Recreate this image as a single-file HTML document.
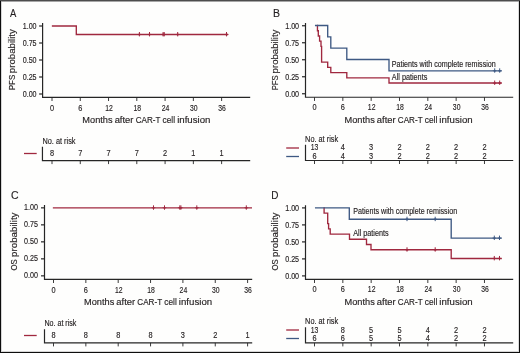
<!DOCTYPE html>
<html><head><meta charset="utf-8"><style>
html,body{margin:0;padding:0;background:#fefefd;}
body{width:520px;height:353px;overflow:hidden;}
svg{display:block;font-family:"Liberation Sans", sans-serif;will-change:transform;}
text{stroke:#231f20;stroke-width:0.15px;}
</style></head><body>
<svg width="520" height="353" viewBox="0 0 520 353">
<rect x="0" y="0" width="520" height="353" fill="#fefefd"/>
<text x="10.00" y="17.00" font-size="11.4" text-anchor="start" textLength="6.3" lengthAdjust="spacingAndGlyphs" fill="#231f20">A</text>
<text x="0" y="0" font-size="9.3" textLength="15.50" lengthAdjust="spacingAndGlyphs" fill="#231f20" transform="translate(14.90,90.30) rotate(-90)">PFS</text>
<text x="0" y="0" font-size="9.3" textLength="44.10" lengthAdjust="spacingAndGlyphs" fill="#231f20" transform="translate(14.90,73.20) rotate(-90)">probability</text>
<path d="M42.60,23.00 V97.30 H250.20" fill="none" stroke="#262626" stroke-width="1.2" stroke-linejoin="miter"/>
<line x1="39.10" y1="26.00" x2="42.60" y2="26.00" stroke="#262626" stroke-width="1.2"/>
<text x="36.60" y="28.80" font-size="8.3" text-anchor="end" textLength="13.9" lengthAdjust="spacingAndGlyphs" fill="#231f20">1.00</text>
<line x1="39.10" y1="43.00" x2="42.60" y2="43.00" stroke="#262626" stroke-width="1.2"/>
<text x="36.60" y="45.80" font-size="8.3" text-anchor="end" textLength="13.9" lengthAdjust="spacingAndGlyphs" fill="#231f20">0.75</text>
<line x1="39.10" y1="60.00" x2="42.60" y2="60.00" stroke="#262626" stroke-width="1.2"/>
<text x="36.60" y="62.80" font-size="8.3" text-anchor="end" textLength="13.9" lengthAdjust="spacingAndGlyphs" fill="#231f20">0.50</text>
<line x1="39.10" y1="77.00" x2="42.60" y2="77.00" stroke="#262626" stroke-width="1.2"/>
<text x="36.60" y="79.80" font-size="8.3" text-anchor="end" textLength="13.9" lengthAdjust="spacingAndGlyphs" fill="#231f20">0.25</text>
<line x1="39.10" y1="94.00" x2="42.60" y2="94.00" stroke="#262626" stroke-width="1.2"/>
<text x="36.60" y="96.80" font-size="8.3" text-anchor="end" textLength="13.9" lengthAdjust="spacingAndGlyphs" fill="#231f20">0.00</text>
<line x1="52.00" y1="97.30" x2="52.00" y2="101.00" stroke="#262626" stroke-width="0.9"/>
<text x="52.00" y="110.50" font-size="8.6" text-anchor="middle" textLength="4.1" lengthAdjust="spacingAndGlyphs" fill="#231f20">0</text>
<line x1="80.27" y1="97.30" x2="80.27" y2="101.00" stroke="#262626" stroke-width="0.9"/>
<text x="80.27" y="110.50" font-size="8.6" text-anchor="middle" textLength="4.1" lengthAdjust="spacingAndGlyphs" fill="#231f20">6</text>
<line x1="108.54" y1="97.30" x2="108.54" y2="101.00" stroke="#262626" stroke-width="0.9"/>
<text x="109.04" y="110.50" font-size="8.6" text-anchor="middle" textLength="7.6" lengthAdjust="spacingAndGlyphs" fill="#231f20">12</text>
<line x1="136.81" y1="97.30" x2="136.81" y2="101.00" stroke="#262626" stroke-width="0.9"/>
<text x="137.31" y="110.50" font-size="8.6" text-anchor="middle" textLength="7.6" lengthAdjust="spacingAndGlyphs" fill="#231f20">18</text>
<line x1="165.08" y1="97.30" x2="165.08" y2="101.00" stroke="#262626" stroke-width="0.9"/>
<text x="165.58" y="110.50" font-size="8.6" text-anchor="middle" textLength="7.6" lengthAdjust="spacingAndGlyphs" fill="#231f20">24</text>
<line x1="193.35" y1="97.30" x2="193.35" y2="101.00" stroke="#262626" stroke-width="0.9"/>
<text x="193.85" y="110.50" font-size="8.6" text-anchor="middle" textLength="7.6" lengthAdjust="spacingAndGlyphs" fill="#231f20">30</text>
<line x1="221.62" y1="97.30" x2="221.62" y2="101.00" stroke="#262626" stroke-width="0.9"/>
<text x="222.12" y="110.50" font-size="8.6" text-anchor="middle" textLength="7.6" lengthAdjust="spacingAndGlyphs" fill="#231f20">36</text>
<text x="82.35" y="123.00" font-size="9" text-anchor="start" textLength="30.2" lengthAdjust="spacingAndGlyphs" fill="#231f20">Months</text>
<text x="114.65" y="123.00" font-size="9" text-anchor="start" textLength="18.799999999999997" lengthAdjust="spacingAndGlyphs" fill="#231f20">after</text>
<text x="135.65" y="123.00" font-size="9" text-anchor="start" textLength="24.799999999999997" lengthAdjust="spacingAndGlyphs" fill="#231f20">CAR-T</text>
<text x="162.55" y="123.00" font-size="9" text-anchor="start" textLength="12.5" lengthAdjust="spacingAndGlyphs" fill="#231f20">cell</text>
<text x="177.15" y="123.00" font-size="9" text-anchor="start" textLength="33.3" lengthAdjust="spacingAndGlyphs" fill="#231f20">infusion</text>
<text x="42.50" y="144.10" font-size="8.2" text-anchor="start" textLength="33" lengthAdjust="spacingAndGlyphs" fill="#231f20">No. at risk</text>
<path d="M42.45,146.80 V160.60 H250.20" fill="none" stroke="#262626" stroke-width="1.2" stroke-linejoin="miter"/>
<line x1="52.00" y1="160.60" x2="52.00" y2="164.10" stroke="#262626" stroke-width="0.9"/>
<line x1="80.27" y1="160.60" x2="80.27" y2="164.10" stroke="#262626" stroke-width="0.9"/>
<line x1="108.54" y1="160.60" x2="108.54" y2="164.10" stroke="#262626" stroke-width="0.9"/>
<line x1="136.81" y1="160.60" x2="136.81" y2="164.10" stroke="#262626" stroke-width="0.9"/>
<line x1="165.08" y1="160.60" x2="165.08" y2="164.10" stroke="#262626" stroke-width="0.9"/>
<line x1="193.35" y1="160.60" x2="193.35" y2="164.10" stroke="#262626" stroke-width="0.9"/>
<line x1="221.62" y1="160.60" x2="221.62" y2="164.10" stroke="#262626" stroke-width="0.9"/>
<line x1="24.00" y1="153.50" x2="36.70" y2="153.50" stroke="#a0283f" stroke-width="1.3"/>
<text x="52.00" y="155.80" font-size="8.3" text-anchor="middle" textLength="4.1" lengthAdjust="spacingAndGlyphs" fill="#231f20">8</text>
<text x="80.27" y="155.80" font-size="8.3" text-anchor="middle" textLength="4.1" lengthAdjust="spacingAndGlyphs" fill="#231f20">7</text>
<text x="108.54" y="155.80" font-size="8.3" text-anchor="middle" textLength="4.1" lengthAdjust="spacingAndGlyphs" fill="#231f20">7</text>
<text x="136.81" y="155.80" font-size="8.3" text-anchor="middle" textLength="4.1" lengthAdjust="spacingAndGlyphs" fill="#231f20">7</text>
<text x="165.08" y="155.80" font-size="8.3" text-anchor="middle" textLength="4.1" lengthAdjust="spacingAndGlyphs" fill="#231f20">2</text>
<text x="193.35" y="155.80" font-size="8.3" text-anchor="middle" textLength="4.1" lengthAdjust="spacingAndGlyphs" fill="#231f20">1</text>
<text x="221.62" y="155.80" font-size="8.3" text-anchor="middle" textLength="4.1" lengthAdjust="spacingAndGlyphs" fill="#231f20">1</text>
<path d="M51.85,26.00 L76.30,26.00 L76.30,34.50 L228.20,34.50" fill="none" stroke="#a0283f" stroke-width="1.35" stroke-linejoin="miter"/>
<path d="M139.40,32.00 V36.40" stroke="#a0283f" stroke-width="1.0" fill="none"/>
<path d="M137.00,34.50 L139.40,33.60 L141.80,34.50 L139.40,35.40 Z" fill="#a0283f" stroke="none"/>
<path d="M149.50,32.00 V36.40" stroke="#a0283f" stroke-width="1.0" fill="none"/>
<path d="M147.10,34.50 L149.50,33.60 L151.90,34.50 L149.50,35.40 Z" fill="#a0283f" stroke="none"/>
<path d="M163.10,32.00 V36.40" stroke="#a0283f" stroke-width="1.0" fill="none"/>
<path d="M160.70,34.50 L163.10,33.60 L165.50,34.50 L163.10,35.40 Z" fill="#a0283f" stroke="none"/>
<path d="M164.20,32.00 V36.40" stroke="#a0283f" stroke-width="1.0" fill="none"/>
<path d="M161.80,34.50 L164.20,33.60 L166.60,34.50 L164.20,35.40 Z" fill="#a0283f" stroke="none"/>
<path d="M177.70,32.00 V36.40" stroke="#a0283f" stroke-width="1.0" fill="none"/>
<path d="M175.30,34.50 L177.70,33.60 L180.10,34.50 L177.70,35.40 Z" fill="#a0283f" stroke="none"/>
<path d="M226.50,32.00 V36.40" stroke="#a0283f" stroke-width="1.0" fill="none"/>
<path d="M224.10,34.50 L226.50,33.60 L228.90,34.50 L226.50,35.40 Z" fill="#a0283f" stroke="none"/>
<text x="272.90" y="17.00" font-size="11.4" text-anchor="start" textLength="7.0" lengthAdjust="spacingAndGlyphs" fill="#231f20">B</text>
<text x="0" y="0" font-size="9.3" textLength="15.10" lengthAdjust="spacingAndGlyphs" fill="#231f20" transform="translate(277.70,90.30) rotate(-90)">PFS</text>
<text x="0" y="0" font-size="9.3" textLength="43.80" lengthAdjust="spacingAndGlyphs" fill="#231f20" transform="translate(277.70,73.40) rotate(-90)">probability</text>
<path d="M305.50,23.10 V97.25 H513.20" fill="none" stroke="#262626" stroke-width="1.2" stroke-linejoin="miter"/>
<line x1="302.00" y1="25.75" x2="305.50" y2="25.75" stroke="#262626" stroke-width="1.2"/>
<text x="299.10" y="28.55" font-size="8.3" text-anchor="end" textLength="13.9" lengthAdjust="spacingAndGlyphs" fill="#231f20">1.00</text>
<line x1="302.00" y1="42.75" x2="305.50" y2="42.75" stroke="#262626" stroke-width="1.2"/>
<text x="299.10" y="45.55" font-size="8.3" text-anchor="end" textLength="13.9" lengthAdjust="spacingAndGlyphs" fill="#231f20">0.75</text>
<line x1="302.00" y1="59.75" x2="305.50" y2="59.75" stroke="#262626" stroke-width="1.2"/>
<text x="299.10" y="62.55" font-size="8.3" text-anchor="end" textLength="13.9" lengthAdjust="spacingAndGlyphs" fill="#231f20">0.50</text>
<line x1="302.00" y1="76.75" x2="305.50" y2="76.75" stroke="#262626" stroke-width="1.2"/>
<text x="299.10" y="79.55" font-size="8.3" text-anchor="end" textLength="13.9" lengthAdjust="spacingAndGlyphs" fill="#231f20">0.25</text>
<line x1="302.00" y1="93.75" x2="305.50" y2="93.75" stroke="#262626" stroke-width="1.2"/>
<text x="299.10" y="96.55" font-size="8.3" text-anchor="end" textLength="13.9" lengthAdjust="spacingAndGlyphs" fill="#231f20">0.00</text>
<line x1="314.50" y1="97.25" x2="314.50" y2="100.95" stroke="#262626" stroke-width="0.9"/>
<text x="314.50" y="110.40" font-size="8.6" text-anchor="middle" textLength="4.1" lengthAdjust="spacingAndGlyphs" fill="#231f20">0</text>
<line x1="342.83" y1="97.25" x2="342.83" y2="100.95" stroke="#262626" stroke-width="0.9"/>
<text x="342.83" y="110.40" font-size="8.6" text-anchor="middle" textLength="4.1" lengthAdjust="spacingAndGlyphs" fill="#231f20">6</text>
<line x1="371.16" y1="97.25" x2="371.16" y2="100.95" stroke="#262626" stroke-width="0.9"/>
<text x="371.66" y="110.40" font-size="8.6" text-anchor="middle" textLength="7.6" lengthAdjust="spacingAndGlyphs" fill="#231f20">12</text>
<line x1="399.49" y1="97.25" x2="399.49" y2="100.95" stroke="#262626" stroke-width="0.9"/>
<text x="399.99" y="110.40" font-size="8.6" text-anchor="middle" textLength="7.6" lengthAdjust="spacingAndGlyphs" fill="#231f20">18</text>
<line x1="427.82" y1="97.25" x2="427.82" y2="100.95" stroke="#262626" stroke-width="0.9"/>
<text x="428.32" y="110.40" font-size="8.6" text-anchor="middle" textLength="7.6" lengthAdjust="spacingAndGlyphs" fill="#231f20">24</text>
<line x1="456.15" y1="97.25" x2="456.15" y2="100.95" stroke="#262626" stroke-width="0.9"/>
<text x="456.65" y="110.40" font-size="8.6" text-anchor="middle" textLength="7.6" lengthAdjust="spacingAndGlyphs" fill="#231f20">30</text>
<line x1="484.48" y1="97.25" x2="484.48" y2="100.95" stroke="#262626" stroke-width="0.9"/>
<text x="484.98" y="110.40" font-size="8.6" text-anchor="middle" textLength="7.6" lengthAdjust="spacingAndGlyphs" fill="#231f20">36</text>
<text x="344.55" y="122.60" font-size="9" text-anchor="start" textLength="30.2" lengthAdjust="spacingAndGlyphs" fill="#231f20">Months</text>
<text x="376.85" y="122.60" font-size="9" text-anchor="start" textLength="18.799999999999997" lengthAdjust="spacingAndGlyphs" fill="#231f20">after</text>
<text x="397.85" y="122.60" font-size="9" text-anchor="start" textLength="24.799999999999997" lengthAdjust="spacingAndGlyphs" fill="#231f20">CAR-T</text>
<text x="424.75" y="122.60" font-size="9" text-anchor="start" textLength="12.5" lengthAdjust="spacingAndGlyphs" fill="#231f20">cell</text>
<text x="439.35" y="122.60" font-size="9" text-anchor="start" textLength="33.3" lengthAdjust="spacingAndGlyphs" fill="#231f20">infusion</text>
<text x="305.10" y="141.50" font-size="8.2" text-anchor="start" textLength="33" lengthAdjust="spacingAndGlyphs" fill="#231f20">No. at risk</text>
<path d="M305.50,144.80 V160.50 H513.20" fill="none" stroke="#262626" stroke-width="1.2" stroke-linejoin="miter"/>
<line x1="314.50" y1="160.50" x2="314.50" y2="164.00" stroke="#262626" stroke-width="0.9"/>
<line x1="342.83" y1="160.50" x2="342.83" y2="164.00" stroke="#262626" stroke-width="0.9"/>
<line x1="371.16" y1="160.50" x2="371.16" y2="164.00" stroke="#262626" stroke-width="0.9"/>
<line x1="399.49" y1="160.50" x2="399.49" y2="164.00" stroke="#262626" stroke-width="0.9"/>
<line x1="427.82" y1="160.50" x2="427.82" y2="164.00" stroke="#262626" stroke-width="0.9"/>
<line x1="456.15" y1="160.50" x2="456.15" y2="164.00" stroke="#262626" stroke-width="0.9"/>
<line x1="484.48" y1="160.50" x2="484.48" y2="164.00" stroke="#262626" stroke-width="0.9"/>
<line x1="286.20" y1="148.00" x2="299.00" y2="148.00" stroke="#a0283f" stroke-width="1.3"/>
<text x="314.50" y="150.40" font-size="8.3" text-anchor="middle" textLength="7.6" lengthAdjust="spacingAndGlyphs" fill="#231f20">13</text>
<text x="342.83" y="150.40" font-size="8.3" text-anchor="middle" textLength="4.1" lengthAdjust="spacingAndGlyphs" fill="#231f20">4</text>
<text x="371.16" y="150.40" font-size="8.3" text-anchor="middle" textLength="4.1" lengthAdjust="spacingAndGlyphs" fill="#231f20">3</text>
<text x="399.49" y="150.40" font-size="8.3" text-anchor="middle" textLength="4.1" lengthAdjust="spacingAndGlyphs" fill="#231f20">2</text>
<text x="427.82" y="150.40" font-size="8.3" text-anchor="middle" textLength="4.1" lengthAdjust="spacingAndGlyphs" fill="#231f20">2</text>
<text x="456.15" y="150.40" font-size="8.3" text-anchor="middle" textLength="4.1" lengthAdjust="spacingAndGlyphs" fill="#231f20">2</text>
<text x="484.48" y="150.40" font-size="8.3" text-anchor="middle" textLength="4.1" lengthAdjust="spacingAndGlyphs" fill="#231f20">2</text>
<line x1="286.20" y1="156.50" x2="299.00" y2="156.50" stroke="#3e5983" stroke-width="1.3"/>
<text x="314.50" y="158.90" font-size="8.3" text-anchor="middle" textLength="4.1" lengthAdjust="spacingAndGlyphs" fill="#231f20">6</text>
<text x="342.83" y="158.90" font-size="8.3" text-anchor="middle" textLength="4.1" lengthAdjust="spacingAndGlyphs" fill="#231f20">4</text>
<text x="371.16" y="158.90" font-size="8.3" text-anchor="middle" textLength="4.1" lengthAdjust="spacingAndGlyphs" fill="#231f20">3</text>
<text x="399.49" y="158.90" font-size="8.3" text-anchor="middle" textLength="4.1" lengthAdjust="spacingAndGlyphs" fill="#231f20">2</text>
<text x="427.82" y="158.90" font-size="8.3" text-anchor="middle" textLength="4.1" lengthAdjust="spacingAndGlyphs" fill="#231f20">2</text>
<text x="456.15" y="158.90" font-size="8.3" text-anchor="middle" textLength="4.1" lengthAdjust="spacingAndGlyphs" fill="#231f20">2</text>
<text x="484.48" y="158.90" font-size="8.3" text-anchor="middle" textLength="4.1" lengthAdjust="spacingAndGlyphs" fill="#231f20">2</text>
<path d="M316.90,25.50 L317.45,25.50 L317.45,30.73 L318.30,30.73 L318.30,35.96 L319.60,35.96 L319.60,41.19 L321.00,41.19 L321.00,46.42 L321.60,46.42 L321.60,62.12 L327.70,62.12 L327.70,67.35 L330.80,67.35 L330.80,72.58 L346.80,72.58 L346.80,77.81 L389.00,77.81 L389.00,83.04 L501.80,83.04" fill="none" stroke="#a0283f" stroke-width="1.35" stroke-linejoin="miter"/>
<path d="M494.70,80.54 V84.94" stroke="#a0283f" stroke-width="1.0" fill="none"/>
<path d="M492.30,83.04 L494.70,82.14 L497.10,83.04 L494.70,83.94 Z" fill="#a0283f" stroke="none"/>
<path d="M499.70,80.54 V84.94" stroke="#a0283f" stroke-width="1.0" fill="none"/>
<path d="M497.30,83.04 L499.70,82.14 L502.10,83.04 L499.70,83.94 Z" fill="#a0283f" stroke="none"/>
<path d="M314.95,25.50 L327.70,25.50 L327.70,36.83 L330.80,36.83 L330.80,48.17 L346.80,48.17 L346.80,59.50 L389.00,59.50 L389.00,70.83 L501.80,70.83" fill="none" stroke="#3e5983" stroke-width="1.35" stroke-linejoin="miter"/>
<path d="M494.70,68.33 V72.73" stroke="#3e5983" stroke-width="1.0" fill="none"/>
<path d="M492.30,70.83 L494.70,69.93 L497.10,70.83 L494.70,71.73 Z" fill="#3e5983" stroke="none"/>
<path d="M499.70,68.33 V72.73" stroke="#3e5983" stroke-width="1.0" fill="none"/>
<path d="M497.30,70.83 L499.70,69.93 L502.10,70.83 L499.70,71.73 Z" fill="#3e5983" stroke="none"/>
<text x="391.80" y="66.70" font-size="8.2" text-anchor="start" textLength="104" lengthAdjust="spacingAndGlyphs" fill="#231f20">Patients with complete remission</text>
<text x="391.80" y="79.80" font-size="8.2" text-anchor="start" textLength="35.5" lengthAdjust="spacingAndGlyphs" fill="#231f20">All patients</text>
<text x="11.00" y="199.00" font-size="11.4" text-anchor="start" textLength="7.6" lengthAdjust="spacingAndGlyphs" fill="#231f20">C</text>
<text x="0" y="0" font-size="9.3" textLength="11.20" lengthAdjust="spacingAndGlyphs" fill="#231f20" transform="translate(17.00,270.50) rotate(-90)">OS</text>
<text x="0" y="0" font-size="9.3" textLength="44.40" lengthAdjust="spacingAndGlyphs" fill="#231f20" transform="translate(17.00,256.90) rotate(-90)">probability</text>
<path d="M44.50,205.00 V279.30 H252.20" fill="none" stroke="#262626" stroke-width="1.2" stroke-linejoin="miter"/>
<line x1="41.00" y1="207.85" x2="44.50" y2="207.85" stroke="#262626" stroke-width="1.2"/>
<text x="37.90" y="209.90" font-size="8.3" text-anchor="end" textLength="13.9" lengthAdjust="spacingAndGlyphs" fill="#231f20">1.00</text>
<line x1="41.00" y1="224.85" x2="44.50" y2="224.85" stroke="#262626" stroke-width="1.2"/>
<text x="37.90" y="226.90" font-size="8.3" text-anchor="end" textLength="13.9" lengthAdjust="spacingAndGlyphs" fill="#231f20">0.75</text>
<line x1="41.00" y1="241.85" x2="44.50" y2="241.85" stroke="#262626" stroke-width="1.2"/>
<text x="37.90" y="243.90" font-size="8.3" text-anchor="end" textLength="13.9" lengthAdjust="spacingAndGlyphs" fill="#231f20">0.50</text>
<line x1="41.00" y1="258.85" x2="44.50" y2="258.85" stroke="#262626" stroke-width="1.2"/>
<text x="37.90" y="260.90" font-size="8.3" text-anchor="end" textLength="13.9" lengthAdjust="spacingAndGlyphs" fill="#231f20">0.25</text>
<line x1="41.00" y1="275.85" x2="44.50" y2="275.85" stroke="#262626" stroke-width="1.2"/>
<text x="37.90" y="277.90" font-size="8.3" text-anchor="end" textLength="13.9" lengthAdjust="spacingAndGlyphs" fill="#231f20">0.00</text>
<line x1="53.50" y1="279.30" x2="53.50" y2="283.00" stroke="#262626" stroke-width="0.9"/>
<text x="53.50" y="292.50" font-size="8.6" text-anchor="middle" textLength="4.1" lengthAdjust="spacingAndGlyphs" fill="#231f20">0</text>
<line x1="85.85" y1="279.30" x2="85.85" y2="283.00" stroke="#262626" stroke-width="0.9"/>
<text x="85.85" y="292.50" font-size="8.6" text-anchor="middle" textLength="4.1" lengthAdjust="spacingAndGlyphs" fill="#231f20">6</text>
<line x1="118.20" y1="279.30" x2="118.20" y2="283.00" stroke="#262626" stroke-width="0.9"/>
<text x="118.70" y="292.50" font-size="8.6" text-anchor="middle" textLength="7.6" lengthAdjust="spacingAndGlyphs" fill="#231f20">12</text>
<line x1="150.55" y1="279.30" x2="150.55" y2="283.00" stroke="#262626" stroke-width="0.9"/>
<text x="151.05" y="292.50" font-size="8.6" text-anchor="middle" textLength="7.6" lengthAdjust="spacingAndGlyphs" fill="#231f20">18</text>
<line x1="182.90" y1="279.30" x2="182.90" y2="283.00" stroke="#262626" stroke-width="0.9"/>
<text x="183.40" y="292.50" font-size="8.6" text-anchor="middle" textLength="7.6" lengthAdjust="spacingAndGlyphs" fill="#231f20">24</text>
<line x1="215.25" y1="279.30" x2="215.25" y2="283.00" stroke="#262626" stroke-width="0.9"/>
<text x="215.75" y="292.50" font-size="8.6" text-anchor="middle" textLength="7.6" lengthAdjust="spacingAndGlyphs" fill="#231f20">30</text>
<line x1="247.60" y1="279.30" x2="247.60" y2="283.00" stroke="#262626" stroke-width="0.9"/>
<text x="248.10" y="292.50" font-size="8.6" text-anchor="middle" textLength="7.6" lengthAdjust="spacingAndGlyphs" fill="#231f20">36</text>
<text x="84.05" y="305.10" font-size="9" text-anchor="start" textLength="30.2" lengthAdjust="spacingAndGlyphs" fill="#231f20">Months</text>
<text x="116.35" y="305.10" font-size="9" text-anchor="start" textLength="18.799999999999997" lengthAdjust="spacingAndGlyphs" fill="#231f20">after</text>
<text x="137.35" y="305.10" font-size="9" text-anchor="start" textLength="24.799999999999997" lengthAdjust="spacingAndGlyphs" fill="#231f20">CAR-T</text>
<text x="164.25" y="305.10" font-size="9" text-anchor="start" textLength="12.5" lengthAdjust="spacingAndGlyphs" fill="#231f20">cell</text>
<text x="178.85" y="305.10" font-size="9" text-anchor="start" textLength="33.3" lengthAdjust="spacingAndGlyphs" fill="#231f20">infusion</text>
<text x="44.40" y="325.80" font-size="8.2" text-anchor="start" textLength="32.0" lengthAdjust="spacingAndGlyphs" fill="#231f20">No. at risk</text>
<path d="M44.50,329.20 V342.90 H252.20" fill="none" stroke="#262626" stroke-width="1.2" stroke-linejoin="miter"/>
<line x1="53.50" y1="342.90" x2="53.50" y2="346.40" stroke="#262626" stroke-width="0.9"/>
<line x1="85.85" y1="342.90" x2="85.85" y2="346.40" stroke="#262626" stroke-width="0.9"/>
<line x1="118.20" y1="342.90" x2="118.20" y2="346.40" stroke="#262626" stroke-width="0.9"/>
<line x1="150.55" y1="342.90" x2="150.55" y2="346.40" stroke="#262626" stroke-width="0.9"/>
<line x1="182.90" y1="342.90" x2="182.90" y2="346.40" stroke="#262626" stroke-width="0.9"/>
<line x1="215.25" y1="342.90" x2="215.25" y2="346.40" stroke="#262626" stroke-width="0.9"/>
<line x1="247.60" y1="342.90" x2="247.60" y2="346.40" stroke="#262626" stroke-width="0.9"/>
<line x1="24.00" y1="335.50" x2="36.70" y2="335.50" stroke="#a0283f" stroke-width="1.3"/>
<text x="53.50" y="337.70" font-size="8.3" text-anchor="middle" textLength="4.1" lengthAdjust="spacingAndGlyphs" fill="#231f20">8</text>
<text x="85.85" y="337.70" font-size="8.3" text-anchor="middle" textLength="4.1" lengthAdjust="spacingAndGlyphs" fill="#231f20">8</text>
<text x="118.20" y="337.70" font-size="8.3" text-anchor="middle" textLength="4.1" lengthAdjust="spacingAndGlyphs" fill="#231f20">8</text>
<text x="150.55" y="337.70" font-size="8.3" text-anchor="middle" textLength="4.1" lengthAdjust="spacingAndGlyphs" fill="#231f20">8</text>
<text x="182.90" y="337.70" font-size="8.3" text-anchor="middle" textLength="4.1" lengthAdjust="spacingAndGlyphs" fill="#231f20">3</text>
<text x="215.25" y="337.70" font-size="8.3" text-anchor="middle" textLength="4.1" lengthAdjust="spacingAndGlyphs" fill="#231f20">2</text>
<text x="247.60" y="337.70" font-size="8.3" text-anchor="middle" textLength="4.1" lengthAdjust="spacingAndGlyphs" fill="#231f20">1</text>
<path d="M52.85,207.85 L252.00,207.85" fill="none" stroke="#a0283f" stroke-width="1.35" stroke-linejoin="miter"/>
<path d="M153.50,205.35 V209.75" stroke="#a0283f" stroke-width="1.0" fill="none"/>
<path d="M151.10,207.85 L153.50,206.95 L155.90,207.85 L153.50,208.75 Z" fill="#a0283f" stroke="none"/>
<path d="M164.50,205.35 V209.75" stroke="#a0283f" stroke-width="1.0" fill="none"/>
<path d="M162.10,207.85 L164.50,206.95 L166.90,207.85 L164.50,208.75 Z" fill="#a0283f" stroke="none"/>
<path d="M179.80,205.35 V209.75" stroke="#a0283f" stroke-width="1.0" fill="none"/>
<path d="M177.40,207.85 L179.80,206.95 L182.20,207.85 L179.80,208.75 Z" fill="#a0283f" stroke="none"/>
<path d="M180.90,205.35 V209.75" stroke="#a0283f" stroke-width="1.0" fill="none"/>
<path d="M178.50,207.85 L180.90,206.95 L183.30,207.85 L180.90,208.75 Z" fill="#a0283f" stroke="none"/>
<path d="M196.80,205.35 V209.75" stroke="#a0283f" stroke-width="1.0" fill="none"/>
<path d="M194.40,207.85 L196.80,206.95 L199.20,207.85 L196.80,208.75 Z" fill="#a0283f" stroke="none"/>
<path d="M246.30,205.35 V209.75" stroke="#a0283f" stroke-width="1.0" fill="none"/>
<path d="M243.90,207.85 L246.30,206.95 L248.70,207.85 L246.30,208.75 Z" fill="#a0283f" stroke="none"/>
<text x="271.30" y="199.00" font-size="11.4" text-anchor="start" textLength="7.2" lengthAdjust="spacingAndGlyphs" fill="#231f20">D</text>
<text x="0" y="0" font-size="9.3" textLength="11.20" lengthAdjust="spacingAndGlyphs" fill="#231f20" transform="translate(278.05,270.50) rotate(-90)">OS</text>
<text x="0" y="0" font-size="9.3" textLength="44.40" lengthAdjust="spacingAndGlyphs" fill="#231f20" transform="translate(278.05,256.90) rotate(-90)">probability</text>
<path d="M305.50,205.30 V279.30 H513.20" fill="none" stroke="#262626" stroke-width="1.2" stroke-linejoin="miter"/>
<line x1="302.00" y1="207.90" x2="305.50" y2="207.90" stroke="#262626" stroke-width="1.2"/>
<text x="299.10" y="210.70" font-size="8.3" text-anchor="end" textLength="13.9" lengthAdjust="spacingAndGlyphs" fill="#231f20">1.00</text>
<line x1="302.00" y1="224.90" x2="305.50" y2="224.90" stroke="#262626" stroke-width="1.2"/>
<text x="299.10" y="227.70" font-size="8.3" text-anchor="end" textLength="13.9" lengthAdjust="spacingAndGlyphs" fill="#231f20">0.75</text>
<line x1="302.00" y1="241.90" x2="305.50" y2="241.90" stroke="#262626" stroke-width="1.2"/>
<text x="299.10" y="244.70" font-size="8.3" text-anchor="end" textLength="13.9" lengthAdjust="spacingAndGlyphs" fill="#231f20">0.50</text>
<line x1="302.00" y1="258.90" x2="305.50" y2="258.90" stroke="#262626" stroke-width="1.2"/>
<text x="299.10" y="261.70" font-size="8.3" text-anchor="end" textLength="13.9" lengthAdjust="spacingAndGlyphs" fill="#231f20">0.25</text>
<line x1="302.00" y1="275.90" x2="305.50" y2="275.90" stroke="#262626" stroke-width="1.2"/>
<text x="299.10" y="278.70" font-size="8.3" text-anchor="end" textLength="13.9" lengthAdjust="spacingAndGlyphs" fill="#231f20">0.00</text>
<line x1="314.50" y1="279.30" x2="314.50" y2="283.00" stroke="#262626" stroke-width="0.9"/>
<text x="314.50" y="292.30" font-size="8.6" text-anchor="middle" textLength="4.1" lengthAdjust="spacingAndGlyphs" fill="#231f20">0</text>
<line x1="342.83" y1="279.30" x2="342.83" y2="283.00" stroke="#262626" stroke-width="0.9"/>
<text x="342.83" y="292.30" font-size="8.6" text-anchor="middle" textLength="4.1" lengthAdjust="spacingAndGlyphs" fill="#231f20">6</text>
<line x1="371.16" y1="279.30" x2="371.16" y2="283.00" stroke="#262626" stroke-width="0.9"/>
<text x="371.66" y="292.30" font-size="8.6" text-anchor="middle" textLength="7.6" lengthAdjust="spacingAndGlyphs" fill="#231f20">12</text>
<line x1="399.49" y1="279.30" x2="399.49" y2="283.00" stroke="#262626" stroke-width="0.9"/>
<text x="399.99" y="292.30" font-size="8.6" text-anchor="middle" textLength="7.6" lengthAdjust="spacingAndGlyphs" fill="#231f20">18</text>
<line x1="427.82" y1="279.30" x2="427.82" y2="283.00" stroke="#262626" stroke-width="0.9"/>
<text x="428.32" y="292.30" font-size="8.6" text-anchor="middle" textLength="7.6" lengthAdjust="spacingAndGlyphs" fill="#231f20">24</text>
<line x1="456.15" y1="279.30" x2="456.15" y2="283.00" stroke="#262626" stroke-width="0.9"/>
<text x="456.65" y="292.30" font-size="8.6" text-anchor="middle" textLength="7.6" lengthAdjust="spacingAndGlyphs" fill="#231f20">30</text>
<line x1="484.48" y1="279.30" x2="484.48" y2="283.00" stroke="#262626" stroke-width="0.9"/>
<text x="484.98" y="292.30" font-size="8.6" text-anchor="middle" textLength="7.6" lengthAdjust="spacingAndGlyphs" fill="#231f20">36</text>
<text x="344.55" y="304.60" font-size="9" text-anchor="start" textLength="30.2" lengthAdjust="spacingAndGlyphs" fill="#231f20">Months</text>
<text x="376.85" y="304.60" font-size="9" text-anchor="start" textLength="18.799999999999997" lengthAdjust="spacingAndGlyphs" fill="#231f20">after</text>
<text x="397.85" y="304.60" font-size="9" text-anchor="start" textLength="24.799999999999997" lengthAdjust="spacingAndGlyphs" fill="#231f20">CAR-T</text>
<text x="424.75" y="304.60" font-size="9" text-anchor="start" textLength="12.5" lengthAdjust="spacingAndGlyphs" fill="#231f20">cell</text>
<text x="439.35" y="304.60" font-size="9" text-anchor="start" textLength="33.3" lengthAdjust="spacingAndGlyphs" fill="#231f20">infusion</text>
<text x="305.10" y="323.80" font-size="8.2" text-anchor="start" textLength="33" lengthAdjust="spacingAndGlyphs" fill="#231f20">No. at risk</text>
<path d="M305.50,327.30 V342.90 H513.20" fill="none" stroke="#262626" stroke-width="1.2" stroke-linejoin="miter"/>
<line x1="314.50" y1="342.90" x2="314.50" y2="346.40" stroke="#262626" stroke-width="0.9"/>
<line x1="342.83" y1="342.90" x2="342.83" y2="346.40" stroke="#262626" stroke-width="0.9"/>
<line x1="371.16" y1="342.90" x2="371.16" y2="346.40" stroke="#262626" stroke-width="0.9"/>
<line x1="399.49" y1="342.90" x2="399.49" y2="346.40" stroke="#262626" stroke-width="0.9"/>
<line x1="427.82" y1="342.90" x2="427.82" y2="346.40" stroke="#262626" stroke-width="0.9"/>
<line x1="456.15" y1="342.90" x2="456.15" y2="346.40" stroke="#262626" stroke-width="0.9"/>
<line x1="484.48" y1="342.90" x2="484.48" y2="346.40" stroke="#262626" stroke-width="0.9"/>
<line x1="286.20" y1="330.00" x2="299.00" y2="330.00" stroke="#a0283f" stroke-width="1.3"/>
<text x="314.50" y="332.80" font-size="8.3" text-anchor="middle" textLength="7.6" lengthAdjust="spacingAndGlyphs" fill="#231f20">13</text>
<text x="342.83" y="332.80" font-size="8.3" text-anchor="middle" textLength="4.1" lengthAdjust="spacingAndGlyphs" fill="#231f20">8</text>
<text x="371.16" y="332.80" font-size="8.3" text-anchor="middle" textLength="4.1" lengthAdjust="spacingAndGlyphs" fill="#231f20">5</text>
<text x="399.49" y="332.80" font-size="8.3" text-anchor="middle" textLength="4.1" lengthAdjust="spacingAndGlyphs" fill="#231f20">5</text>
<text x="427.82" y="332.80" font-size="8.3" text-anchor="middle" textLength="4.1" lengthAdjust="spacingAndGlyphs" fill="#231f20">4</text>
<text x="456.15" y="332.80" font-size="8.3" text-anchor="middle" textLength="4.1" lengthAdjust="spacingAndGlyphs" fill="#231f20">2</text>
<text x="484.48" y="332.80" font-size="8.3" text-anchor="middle" textLength="4.1" lengthAdjust="spacingAndGlyphs" fill="#231f20">2</text>
<line x1="286.20" y1="338.50" x2="299.00" y2="338.50" stroke="#3e5983" stroke-width="1.3"/>
<text x="314.50" y="341.00" font-size="8.3" text-anchor="middle" textLength="4.1" lengthAdjust="spacingAndGlyphs" fill="#231f20">6</text>
<text x="342.83" y="341.00" font-size="8.3" text-anchor="middle" textLength="4.1" lengthAdjust="spacingAndGlyphs" fill="#231f20">6</text>
<text x="371.16" y="341.00" font-size="8.3" text-anchor="middle" textLength="4.1" lengthAdjust="spacingAndGlyphs" fill="#231f20">5</text>
<text x="399.49" y="341.00" font-size="8.3" text-anchor="middle" textLength="4.1" lengthAdjust="spacingAndGlyphs" fill="#231f20">5</text>
<text x="427.82" y="341.00" font-size="8.3" text-anchor="middle" textLength="4.1" lengthAdjust="spacingAndGlyphs" fill="#231f20">4</text>
<text x="456.15" y="341.00" font-size="8.3" text-anchor="middle" textLength="4.1" lengthAdjust="spacingAndGlyphs" fill="#231f20">2</text>
<text x="484.48" y="341.00" font-size="8.3" text-anchor="middle" textLength="4.1" lengthAdjust="spacingAndGlyphs" fill="#231f20">2</text>
<path d="M323.50,207.90 L324.10,207.90 L324.10,213.13 L327.70,213.13 L327.70,223.59 L328.60,223.59 L328.60,228.82 L330.20,228.82 L330.20,234.05 L349.50,234.05 L349.50,239.28 L366.50,239.28 L366.50,244.52 L371.00,244.52 L371.00,249.75 L451.20,249.75 L451.20,258.46 L501.80,258.46" fill="none" stroke="#a0283f" stroke-width="1.35" stroke-linejoin="miter"/>
<path d="M407.00,247.25 V251.65" stroke="#a0283f" stroke-width="1.0" fill="none"/>
<path d="M404.60,249.75 L407.00,248.85 L409.40,249.75 L407.00,250.65 Z" fill="#a0283f" stroke="none"/>
<path d="M435.20,247.25 V251.65" stroke="#a0283f" stroke-width="1.0" fill="none"/>
<path d="M432.80,249.75 L435.20,248.85 L437.60,249.75 L435.20,250.65 Z" fill="#a0283f" stroke="none"/>
<path d="M494.30,255.96 V260.36" stroke="#a0283f" stroke-width="1.0" fill="none"/>
<path d="M491.90,258.46 L494.30,257.56 L496.70,258.46 L494.30,259.36 Z" fill="#a0283f" stroke="none"/>
<path d="M499.50,255.96 V260.36" stroke="#a0283f" stroke-width="1.0" fill="none"/>
<path d="M497.10,258.46 L499.50,257.56 L501.90,258.46 L499.50,259.36 Z" fill="#a0283f" stroke="none"/>
<path d="M314.95,207.90 L349.30,207.90 L349.30,219.23 L451.20,219.23 L451.20,238.12 L501.80,238.12" fill="none" stroke="#3e5983" stroke-width="1.35" stroke-linejoin="miter"/>
<path d="M407.00,216.73 V221.13" stroke="#3e5983" stroke-width="1.0" fill="none"/>
<path d="M404.60,219.23 L407.00,218.33 L409.40,219.23 L407.00,220.13 Z" fill="#3e5983" stroke="none"/>
<path d="M435.20,216.73 V221.13" stroke="#3e5983" stroke-width="1.0" fill="none"/>
<path d="M432.80,219.23 L435.20,218.33 L437.60,219.23 L435.20,220.13 Z" fill="#3e5983" stroke="none"/>
<path d="M494.30,235.62 V240.02" stroke="#3e5983" stroke-width="1.0" fill="none"/>
<path d="M491.90,238.12 L494.30,237.22 L496.70,238.12 L494.30,239.02 Z" fill="#3e5983" stroke="none"/>
<path d="M499.50,235.62 V240.02" stroke="#3e5983" stroke-width="1.0" fill="none"/>
<path d="M497.10,238.12 L499.50,237.22 L501.90,238.12 L499.50,239.02 Z" fill="#3e5983" stroke="none"/>
<text x="353.20" y="214.10" font-size="8.2" text-anchor="start" textLength="104" lengthAdjust="spacingAndGlyphs" fill="#231f20">Patients with complete remission</text>
<text x="353.20" y="235.60" font-size="8.2" text-anchor="start" textLength="35.5" lengthAdjust="spacingAndGlyphs" fill="#231f20">All patients</text>
<rect x="0" y="0" width="520" height="1" fill="#4d4d4d"/>
<rect x="0" y="1" width="520" height="1" fill="#a6a6a6"/>
<rect x="0" y="1" width="1" height="352" fill="#0d0d0d"/>
<rect x="1" y="2" width="1" height="350" fill="#d6d6d6"/>
<rect x="519" y="1" width="1" height="352" fill="#0d0d0d"/>
<rect x="518" y="2" width="1" height="350" fill="#dadada"/>
<rect x="0" y="352" width="520" height="1" fill="#0d0d0d"/>
<rect x="1" y="351" width="518" height="1" fill="#d6d6d6"/>
</svg>
</body></html>
